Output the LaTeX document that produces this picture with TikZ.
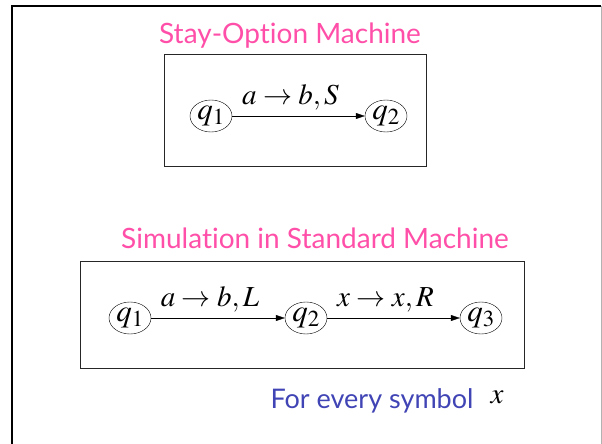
\documentclass[tikz,border=0pt]{standalone}
\usepackage{mathptmx}
\usepackage[no-math]{fontspec}
\setmainfont{Liberation Serif}
\setsansfont{Lato}[Ligatures={NoCommon,NoRequired,NoContextual}]
\usetikzlibrary{positioning,arrows.meta,shapes.geometric}
\definecolor{titlepink}{HTML}{FF4FA8}
\definecolor{noteblue}{HTML}{4044B4}

\tikzset{
  stnode/.style={draw, ellipse, thin, inner sep=0pt, minimum width=42pt, minimum height=32pt, font=\fontsize{31}{31}\selectfont},
  trans/.style={-{Triangle[length=9pt,width=6pt]}, thin},
  tlabel/.style={above=2pt, xshift=-8pt, font=\fontsize{29}{29}\selectfont},
  slidetitle/.style={text=titlepink, font=\sffamily\fontsize{28}{28}\selectfont},
  framebox/.style={draw=black!85, thin}
}

\begin{document}
\begin{tikzpicture}[x=1pt, y=-1pt]
    \useasboundingbox (0,0) rectangle (602,444);
    % slide frame
    \draw[line width=2pt] (12,444) -- (12,6) -- (601,6);
    \draw[gray!60, line width=1pt] (601,6) -- (601,444);

    % stay-option machine
    \node[slidetitle] (t1) at (290,36) {Stay-Option Machine};
    \draw[framebox] (164,54) rectangle (426,166);
    \node[stnode] (a1) at (211,116) {$q_1$};
    \node[stnode] (a2) at (386,116) {$q_2$};
    \draw[trans] (a1) -- node[tlabel] {$a\rightarrow b,S$} (a2);

    % simulation
    \node[slidetitle] (t2) at (315,238) {Simulation in Standard Machine};
    \draw[framebox] (80,261) rectangle (524,368);
    \node[stnode] (b1) at (130,318) {$q_1$};
    \node[stnode] (b2) at (306,318) {$q_2$};
    \node[stnode] (b3) at (481,318) {$q_3$};
    \draw[trans] (b1) -- node[tlabel] {$a\rightarrow b,L$} (b2);
    \draw[trans] (b2) -- node[tlabel] {$x\rightarrow x,R$} (b3);

    \node[text=noteblue, font=\sffamily\fontsize{27}{27}\selectfont] (note) at (372,401) {For every symbol};
    \node[font=\fontsize{29}{29}\selectfont] (sym) at (497,397) {$x$};
  \end{tikzpicture}
\end{document}
